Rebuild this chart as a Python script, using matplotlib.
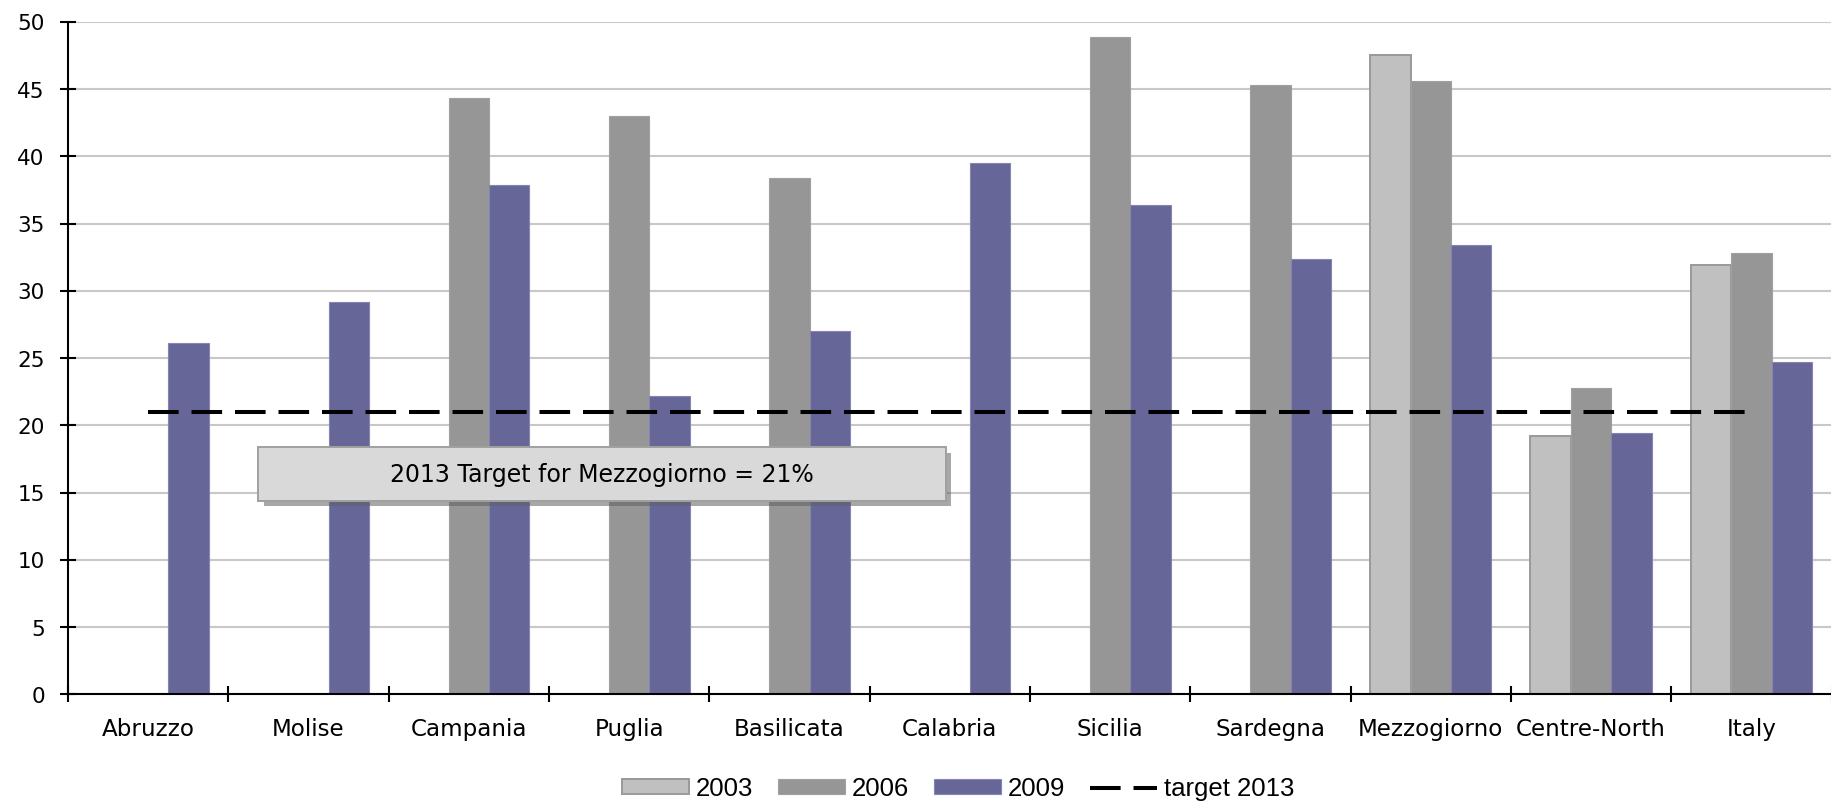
import numpy as np
import matplotlib
matplotlib.use("Agg")
import matplotlib.pyplot as plt
import matplotlib.patheffects as pe
from matplotlib.patches import FancyBboxPatch

plt.rcParams['font.family'] = ['DejaVu Sans']

regions = ["Abruzzo", "Molise", "Campania", "Puglia", "Basilicata", "Calabria",
           "Sicilia", "Sardegna", "Mezzogiorno", "Centre-North", "Italy"]
nan = np.nan
v2003 = [nan, nan, nan, nan, nan, nan, nan, nan, 47.5, 19.2, 31.9]
v2006 = [nan, nan, 44.3, 43.0, 38.4, nan, 48.9, 45.3, 45.6, 22.8, 32.8]
v2009 = [26.1, 29.2, 37.9, 22.2, 27.0, 39.5, 36.4, 32.4, 33.4, 19.4, 24.7]
target = 21
yticks = list(range(0, 51, 5))

fig = plt.figure(figsize=(18.315, 8.055), dpi=100)
ax = fig.add_axes([0.03714, 0.1375, 0.9629, 0.8348])

x = np.arange(len(regions)) + 0.5
w = 0.252

b1 = ax.bar(x - w, v2003, w, color="#c0c0c0", edgecolor="#999999", linewidth=1.4,
            label="2003", zorder=2)
b2 = ax.bar(x, v2006, w, color="#969696", edgecolor="#a0a0a0", linewidth=0.8,
            label="2006", zorder=2)
b3 = ax.bar(x + w, v2009, w, color="#666699", edgecolor="#8585b3", linewidth=0.8,
            label="2009", zorder=2)

ln, = ax.plot(x, [target] * len(x), color="black", lw=2.9, dashes=(7.6, 3.2),
              label="target 2013", zorder=3)

# label box for the target
box = FancyBboxPatch((1.185, 14.4), 4.29, 3.95, boxstyle="square,pad=0",
                     facecolor="#d9d9d9", edgecolor="#a0a0a0", linewidth=1.4,
                     zorder=4)
box.set_path_effects([pe.SimplePatchShadow(offset=(4, -4), shadow_rgbFace="#606060",
                                           alpha=0.55), pe.Normal()])
ax.add_patch(box)
ax.text(1.185 + 4.29 / 2, 14.4 + 3.95 / 2, "2013 Target for Mezzogiorno = 21%",
        ha="center", va="center", fontsize=17, zorder=5)

ax.set_xlim(0, 10.937)
ax.set_ylim(0, 50)
ax.set_yticks(yticks)
ax.set_xticks(np.arange(0, 12))
ax.set_xticklabels([])
ax.set_xticks(x, minor=True)
ax.set_xticklabels(regions, minor=True)

ax.tick_params(axis="both", which="major", direction="inout", length=11.5,
               width=1.5, labelsize=15.5)
ax.tick_params(axis="y", pad=11)
ax.tick_params(axis="x", which="minor", length=0, pad=17, labelsize=16.6)

ax.yaxis.grid(True, color="#c8c8c8", lw=1.5, zorder=0)
ax.set_axisbelow(True)
for s in ["top", "right"]:
    ax.spines[s].set_visible(False)
for s in ["left", "bottom"]:
    ax.spines[s].set_linewidth(1.5)
    ax.spines[s].set_zorder(6)

fig.legend([b1, b2, b3, ln], ["2003", "2006", "2009", "target 2013"],
           loc="center", bbox_to_anchor=(0.523, 0.02), ncol=4, frameon=False,
           prop={"family": "Liberation Sans", "size": 18.5}, handlelength=2.6,
           handleheight=0.5, handletextpad=0.27, columnspacing=0.97)

fig.savefig("out.png", dpi=100)
